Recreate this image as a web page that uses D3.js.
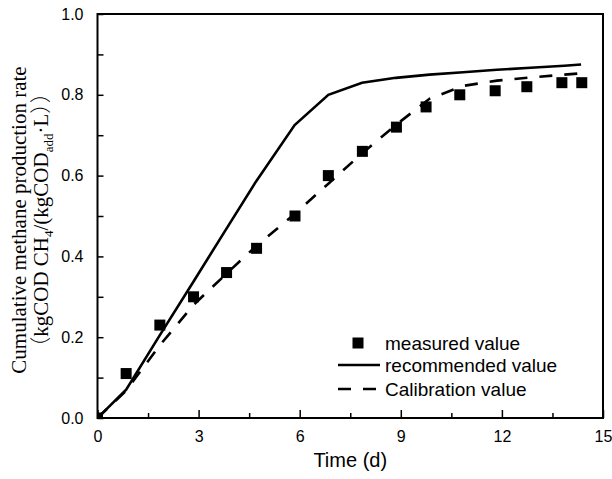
<!DOCTYPE html>
<html>
<head>
<meta charset="utf-8">
<script src="https://cdn.jsdelivr.net/npm/d3@7"></script>
<style>
  body { margin: 0; background: #fff; }
  svg { display: block; }
</style>
</head>
<body>
<div id="chart"></div>
<script>
// values
var measuredDays = [0, 0.85, 1.85, 2.85, 3.83, 4.72, 5.86, 6.85, 7.86, 8.87, 9.75, 10.75, 11.8, 12.74, 13.78, 14.37];
var measuredRate = [0, 0.11, 0.23, 0.30, 0.36, 0.42, 0.50, 0.60, 0.66, 0.72, 0.77, 0.80, 0.81, 0.82, 0.83, 0.83];

var modelDays = [0, 0.85, 1.85, 2.85, 3.8, 4.7, 5.85, 6.85, 7.85, 8.85, 9.85, 10.85, 11.85, 12.85, 13.85, 14.35];
var recommendedRate = [0, 0.07, 0.205, 0.338, 0.465, 0.585, 0.725, 0.80, 0.83, 0.842, 0.85, 0.856, 0.862, 0.867, 0.872, 0.875];
var calibrationRate = [0, 0.068, 0.18, 0.28, 0.355, 0.425, 0.505, 0.58, 0.655, 0.725, 0.79, 0.822, 0.835, 0.843, 0.85, 0.853];

var xMajor = [0, 3, 6, 9, 12, 15];
var xMinor = [1.5, 4.5, 7.5, 10.5, 13.5];
var yMajor = [0, 0.2, 0.4, 0.6, 0.8, 1.0];
var yMinor = [0.1, 0.3, 0.5, 0.7, 0.9];

var legendLabels = ["measured value", "recommended value", "Calibration value"];

var W = 612, H = 479;
var margin = {left: 97.5, top: 14, right: 9, bottom: 61};
var w = W - margin.left - margin.right,
    h = H - margin.top - margin.bottom;

var svg = d3.select("#chart").append("svg")
    .attr("width", W)
    .attr("height", H);

var g = svg.append("g")
    .attr("transform", "translate(" + margin.left + "," + margin.top + ")");

var x = d3.scaleLinear().domain([0, 15]).range([0, w]);
var y = d3.scaleLinear().domain([0, 1]).range([h, 0]);

g.append("clipPath").attr("id", "plotclip")
  .append("rect").attr("width", w).attr("height", h);

// axes, ticks pointing inside
var xAxis = g.append("g").attr("transform", "translate(0," + h + ")")
    .call(d3.axisBottom(x).tickValues(xMajor).tickSize(-8).tickPadding(13).tickFormat(d3.format("d")));
var xAxisMinor = g.append("g").attr("transform", "translate(0," + h + ")")
    .call(d3.axisBottom(x).tickValues(xMinor).tickSize(-5).tickFormat(""));
var yAxis = g.append("g")
    .call(d3.axisLeft(y).tickValues(yMajor).tickSize(-6).tickPadding(14).tickFormat(d3.format(".1f")));
var yAxisMinor = g.append("g")
    .call(d3.axisLeft(y).tickValues(yMinor).tickSize(-6).tickFormat(""));

[xAxis, xAxisMinor, yAxis, yAxisMinor].forEach(function(a) {
  a.select(".domain").remove();
  a.selectAll("line").attr("stroke", "#000").attr("stroke-width", 1.5);
  a.selectAll("text")
    .attr("fill", "#000")
    .style("font-family", "Liberation Sans, Arial, sans-serif")
    .style("font-size", "16px");
});

// frame
g.append("rect")
    .attr("width", w).attr("height", h)
    .attr("fill", "none")
    .attr("stroke", "#000")
    .attr("stroke-width", 2);

var lineFor = function(vals) {
  return d3.line()
    .x(function(d, i) { return x(modelDays[i]); })
    .y(function(d) { return y(d); })(vals);
};

var plot = g.append("g").attr("clip-path", "url(#plotclip)");

plot.append("path")
    .attr("d", lineFor(recommendedRate))
    .attr("fill", "none")
    .attr("stroke", "#000")
    .attr("stroke-width", 2.6);

plot.append("path")
    .attr("d", lineFor(calibrationRate))
    .attr("fill", "none")
    .attr("stroke", "#000")
    .attr("stroke-width", 2.6)
    .attr("stroke-dasharray", "13,12");

var sq = 11;
plot.selectAll("rect.pt")
    .data(measuredDays)
    .enter()
    .append("rect")
    .attr("class", "pt")
    .attr("x", function(d) { return x(d) - sq / 2; })
    .attr("y", function(d, i) { return y(measuredRate[i]) - sq / 2; })
    .attr("width", sq)
    .attr("height", sq)
    .attr("fill", "#000");

// axis titles
svg.append("text")
    .attr("x", margin.left + w / 2)
    .attr("y", 467)
    .attr("text-anchor", "middle")
    .style("font-family", "Liberation Sans, Arial, sans-serif")
    .style("font-size", "20px")
    .text("Time (d)");

var cjk = "'Noto Sans CJK SC', sans-serif";
var yTitle = svg.append("text")
    .attr("transform", "translate(26," + (margin.top + h / 2 + 4) + ") rotate(-90)")
    .attr("text-anchor", "middle")
    .style("font-family", "'Liberation Serif', 'Times New Roman', serif")
    .style("font-size", "21px");
yTitle.append("tspan").attr("x", 0).attr("y", 0).text("Cumulative methane production rate");
var l2 = yTitle.append("tspan").attr("x", 0).attr("y", 22);
l2.append("tspan").style("font-family", cjk).style("font-weight", 300).text("\uFF08");
l2.append("tspan").text("kgCOD CH");
l2.append("tspan").attr("dy", 5).style("font-size", "13px").text("4");
l2.append("tspan").attr("dy", -5).text("/(kgCOD");
l2.append("tspan").attr("dy", 5).style("font-size", "13px").text("add");
l2.append("tspan").attr("dy", -5).text("\u00B7L");
l2.append("tspan").style("font-family", cjk).style("font-weight", 300).text("\uFF09\uFF09");

// legend
var legend = svg.append("g");
var lx = 338, lrows = [343, 365, 389];
legend.append("rect")
    .attr("x", 358 - sq / 2).attr("y", lrows[0] - sq / 2)
    .attr("width", sq).attr("height", sq).attr("fill", "#000");
legend.append("line")
    .attr("x1", lx).attr("x2", 380).attr("y1", lrows[1]).attr("y2", lrows[1])
    .attr("stroke", "#000").attr("stroke-width", 2.6);
legend.append("line")
    .attr("x1", 376).attr("x2", lx).attr("y1", lrows[2]).attr("y2", lrows[2])
    .attr("stroke", "#000").attr("stroke-width", 2.6)
    .attr("stroke-dasharray", "13,12");
legend.selectAll("text.lg")
    .data(legendLabels)
    .enter()
    .append("text")
    .attr("class", "lg")
    .attr("x", 385)
    .attr("y", function(d, i) { return lrows[i]; })
    .attr("dy", "0.35em")
    .style("font-family", "Liberation Sans, Arial, sans-serif")
    .style("font-size", "19px")
    .text(function(d) { return d; });
</script>
</body>
</html>
